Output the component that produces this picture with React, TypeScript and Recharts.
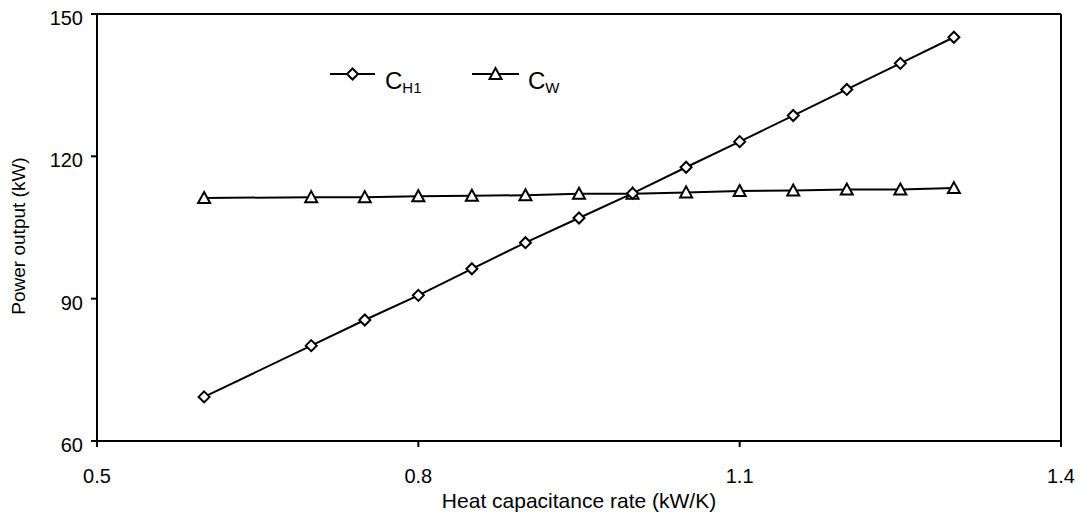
import { LineChart, Line, XAxis, YAxis, ReferenceLine } from "recharts";

const capacitanceRate = [0.6, 0.7, 0.75, 0.8, 0.85, 0.9, 0.95, 1.0, 1.05, 1.1, 1.15, 1.2, 1.25, 1.3];
const powerCH1 = [69.3, 80.1, 85.5, 90.7, 96.3, 101.8, 107.0, 112.2, 117.7, 123.1, 128.6, 134.1, 139.6, 145.1];
const powerCW = [111.2, 111.4, 111.4, 111.6, 111.7, 111.8, 112.1, 112.1, 112.4, 112.7, 112.8, 113.0, 113.0, 113.3];
const xTicks = [0.5, 0.8, 1.1, 1.4];
const yTicks = [60, 90, 120, 150];

const data = capacitanceRate.map((x, i) => ({ x, ch1: powerCH1[i], cw: powerCW[i] }));

const FONT = "'Liberation Sans', Arial, sans-serif";

function Diamond({ cx, cy }: { cx?: number; cy?: number }) {
  if (cx == null || cy == null) return null;
  const r = 5.5;
  return (
    <polygon
      points={`${cx},${cy - r} ${cx + r},${cy} ${cx},${cy + r} ${cx - r},${cy}`}
      fill="#fff"
      stroke="#000"
      strokeWidth={2}
    />
  );
}

function Triangle({ cx, cy }: { cx?: number; cy?: number }) {
  if (cx == null || cy == null) return null;
  return (
    <polygon
      points={`${cx},${cy - 6} ${cx + 6},${cy + 5} ${cx - 6},${cy + 5}`}
      fill="#fff"
      stroke="#000"
      strokeWidth={2}
    />
  );
}

// legend is drawn by hand (subscripts), sits inside the plot
function LegendBox() {
  return (
    <svg width={280} height={44} style={{ overflow: "visible", display: "block" }}>
      <line x1={0} x2={45} y1={20} y2={20} stroke="#000" strokeWidth={2} />
      <Diamond cx={22.5} cy={20} />
      <text x={55} y={35} fontFamily={FONT} fontSize={24} fill="#000">
        C<tspan fontSize={15} dy={3.5}>H1</tspan>
      </text>
      <line x1={142} x2={189} y1={20} y2={20} stroke="#000" strokeWidth={2} />
      <Triangle cx={165.5} cy={20} />
      <text x={198} y={35} fontFamily={FONT} fontSize={24} fill="#000">
        C<tspan fontSize={15} dy={3.5}>W</tspan>
      </text>
    </svg>
  );
}

export default function App() {
  return (
    <div style={{ position: "absolute", left: 0, top: 0, width: 1087, height: 529, background: "#fff" }}>
      <LineChart width={1087} height={529} data={data} margin={{ top: 14, right: 26, left: 0, bottom: 0 }}>
        <XAxis
          dataKey="x"
          type="number"
          domain={[0.5, 1.4]}
          ticks={xTicks}
          height={88}
          stroke="#000"
          axisLine={{ stroke: "#000", strokeWidth: 2 }}
          tickLine={{ stroke: "#000", strokeWidth: 2 }}
          tickSize={6}
          tickMargin={22}
          tick={{ fill: "#000", fontSize: 20, fontFamily: FONT }}
          label={{
            content: () => (
              <text x={579} y={508} textAnchor="middle" fontFamily={FONT} fontSize={21} fill="#000">
                Heat capacitance rate (kW/K)
              </text>
            ),
          }}
        />
        <YAxis
          type="number"
          domain={[60, 150]}
          ticks={yTicks}
          width={97}
          stroke="#000"
          axisLine={{ stroke: "#000", strokeWidth: 2 }}
          tickLine={{ stroke: "#000", strokeWidth: 2 }}
          tickSize={6}
          tickMargin={8}
          tick={{ fill: "#000", fontSize: 20, fontFamily: FONT, dy: 4 }}
          label={{
            content: () => (
              <text
                x={25}
                y={236}
                textAnchor="middle"
                transform="rotate(-90 25 236)"
                fontFamily={FONT}
                fontSize={19}
                fill="#000"
              >
                Power output (kW)
              </text>
            ),
          }}
        />
        <ReferenceLine y={150} stroke="#000" strokeWidth={2} />
        <ReferenceLine x={1.4} stroke="#000" strokeWidth={2} />
        <Line
          dataKey="cw"
          type="linear"
          stroke="#000"
          strokeWidth={2}
          dot={(p: any) => <Triangle key={`t${p.index}`} cx={p.cx} cy={p.cy} />}
          activeDot={false}
          isAnimationActive={false}
        />
        <Line
          dataKey="ch1"
          type="linear"
          stroke="#000"
          strokeWidth={2}
          dot={(p: any) => <Diamond key={`d${p.index}`} cx={p.cx} cy={p.cy} />}
          activeDot={false}
          isAnimationActive={false}
        />
      </LineChart>
      <div style={{ position: "absolute", left: 330, top: 54 }}>
        <LegendBox />
      </div>
    </div>
  );
}
